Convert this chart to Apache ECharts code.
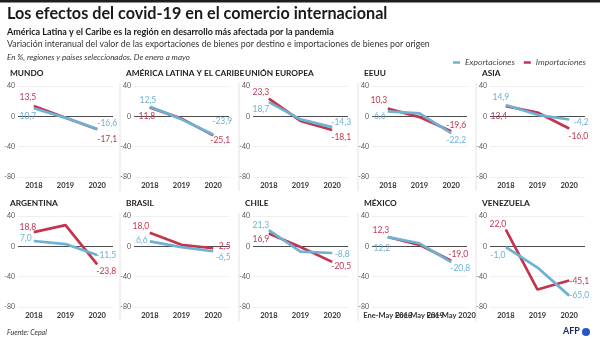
<!DOCTYPE html>
<html><head><meta charset="utf-8">
<script src="https://cdn.jsdelivr.net/npm/echarts@6.0.0/dist/echarts.min.js"></script>
<style>html,body{margin:0;padding:0;background:#fff}#c{width:600px;height:339px}</style>
</head><body><div id="c"></div>
<script>
// ---- data ----
const panelNames = ['MUNDO', 'AMÉRICA LATINA Y EL CARIBE', 'UNIÓN EUROPEA', 'EEUU', 'ASIA',
                    'ARGENTINA', 'BRASIL', 'CHILE', 'MÉXICO', 'VENEZUELA'];
const years = ['2018', '2019', '2020'];
const yearsMexico = ['Ene-May 2018', 'Ene-May 2019', 'Ene-May 2020'];
const yAxisMin = -80, yAxisMax = 40, yAxisStep = 40;
const exportaciones = [
  [10.7, -2, -16.6], [12.5, -4, -23.9], [18.7, -4, -14.3], [6.6, 4, -22.2], [14.9, 2, -4.2],
  [7.0, 3, -11.5], [6.6, -1, -6.5], [21.3, -7, -8.8], [12.2, 4, -20.8], [-1.0, -28, -65.0]
];
const importaciones = [
  [13.5, -2, -17.1], [11.8, -3, -25.1], [23.3, -6, -18.1], [10.3, -1, -19.6], [13.4, 5, -16.0],
  [18.8, 28, -23.8], [18.0, 2, -2.5], [16.9, -1, -20.5], [12.3, 2, -19.0], [22.0, -57, -45.1]
];

// ---- layout / style ----
const FONT = 'Lato';
const BLUE = '#6db1d3', RED = '#c3344f';
const colLeft = [18, 134, 253, 372, 490], rowTop = [86, 216], gridW = 95, gridH = 91;
const expLabelOffsets = [
  [[-6, 8], [10, -6]], [[-2, -7], [9, -13]], [[-8, 7], [9, -5]], [[-8, 5], [5, 7]], [[-5, -8], [12, 3]],
  [[-8, -3], [9, 0]], [[-8, -1], [10, 6]], [[-8, -5], [10, 1]], [[-6, 11], [9, 6]], [[-8, 8], [10, 0]]
];
const impLabelOffsets = [
  [[-6, -9], [10, 10]], [[-3, 9], [7, 5]], [[-8, -6], [9, 7]], [[-9, -8], [5, -6]], [[-7, 10], [9, 8]],
  [[-6, -5], [9, 7]], [[-9, -6], [10, -1.5]], [[-8, 6], [9, 4]], [[-7, -7], [7, -6]], [[-8, -5], [10, 1]]
];
const fmt = v => v.toFixed(1).replace('.', ',');

const grids = [], xAxes = [], yAxes = [], series = [], titles = [], graphics = [];

titles.push({text: 'Los efectos del covid-19 en el comercio internacional', left: 7, top: 6, padding: 0,
  textStyle: {fontFamily: FONT, fontSize: 16.2, fontWeight: 'bold', color: '#1a1a1a'}});
titles.push({text: 'América Latina y el Caribe es la región en desarrollo más afectada por la pandemia', left: 7, top: 28, padding: 0,
  textStyle: {fontFamily: FONT, fontSize: 9, fontWeight: 'bold', color: '#1a1a1a'}});
titles.push({text: 'Variación interanual del valor de las exportaciones de bienes por destino e importaciones de bienes por origen', left: 7, top: 40, padding: 0,
  textStyle: {fontFamily: FONT, fontSize: 8.8, fontWeight: 'normal', color: '#333'}});
titles.push({text: 'En %, regiones y países seleccionados. De enero a mayo', left: 7, top: 53, padding: 0,
  textStyle: {fontFamily: FONT, fontSize: 8, fontStyle: 'italic', fontWeight: 'normal', color: '#333'}});
titles.push({text: 'Fuente: Cepal', left: 7, top: 329, padding: 0,
  textStyle: {fontFamily: FONT, fontSize: 7, fontStyle: 'italic', fontWeight: 'normal', color: '#333'}});

panelNames.forEach((name, i) => {
  const r = Math.floor(i / 5), c = i % 5;
  grids.push({left: colLeft[c], top: rowTop[r], width: gridW, height: gridH});
  xAxes.push({type: 'category', gridIndex: i, data: i === 8 ? yearsMexico : years, boundaryGap: true,
    axisLine: {show: false}, axisTick: {show: false},
    axisLabel: {fontFamily: FONT, fontSize: 7.5, fontWeight: 'bold', color: '#333', margin: 5, interval: 0}});
  yAxes.push({type: 'value', gridIndex: i, min: yAxisMin, max: yAxisMax, interval: yAxisStep,
    axisLine: {show: false}, axisTick: {show: false},
    axisLabel: {fontFamily: FONT, fontSize: 7, color: '#555', margin: 3},
    splitLine: {lineStyle: {color: ['#efefef', '#efefef', '#4d4d4d', '#efefef'], width: 1}}});
  titles.push({text: name, left: colLeft[c] - 8, top: rowTop[r] - 17, padding: 0,
    textStyle: {fontFamily: FONT, fontSize: 8.3, fontWeight: 'bold', color: '#222'}});
  if (c > 0) {
    graphics.push({type: 'line', shape: {x1: colLeft[c] - 14, y1: rowTop[r] - 3, x2: colLeft[c] - 14, y2: rowTop[r] + gridH + 14},
      style: {stroke: '#e2e2e2', lineWidth: 1}, silent: true});
  }
  const mk = (vals, offs, color, sname, z) => ({
    type: 'line', name: sname, xAxisIndex: i, yAxisIndex: i, z: z,
    symbol: 'circle', symbolSize: 0.5, showSymbol: true, animation: false,
    lineStyle: {color: color, width: 2.7}, itemStyle: {color: color},
    label: {show: true, position: 'inside', fontFamily: FONT, fontSize: 8.5, color: color,
      formatter: p => fmt(p.value)},
    emphasis: {disabled: true},
    data: vals.map((v, k) => ({value: v,
      label: k === 1 ? {show: false} : {show: true, offset: offs[k === 0 ? 0 : 1]}}))
  });
  series.push(mk(importaciones[i], impLabelOffsets[i], RED, 'Importaciones', 2));
  series.push(mk(exportaciones[i], expLabelOffsets[i], BLUE, 'Exportaciones', 3));
});

// top dark strip and AFP logo
graphics.push({type: 'rect', shape: {x: 0, y: 0, width: 600, height: 2.5}, style: {fill: '#1e1e1e'}, silent: true});
graphics.push({type: 'text', left: 563, top: 327, style: {text: 'AFP', fontFamily: FONT, fontSize: 9, fontWeight: 'bold', fill: '#1d2a5c'}, silent: true});
graphics.push({type: 'circle', shape: {cx: 586, cy: 332, r: 4}, style: {fill: '#2456c8'}, silent: true});

const chart = echarts.init(document.getElementById('c'), null, {renderer: 'canvas'});
chart.setOption({
  animation: false,
  backgroundColor: '#ffffff',
  title: titles,
  legend: {data: ['Exportaciones', 'Importaciones'], left: 453, top: 58, padding: 0, icon: 'rect',
    itemWidth: 7, itemHeight: 2.5, itemGap: 9, selectedMode: false,
    textStyle: {fontFamily: FONT, fontStyle: 'italic', fontSize: 8.5, color: '#444'}},
  grid: grids, xAxis: xAxes, yAxis: yAxes, series: series, graphic: graphics
});
</script></body></html>
